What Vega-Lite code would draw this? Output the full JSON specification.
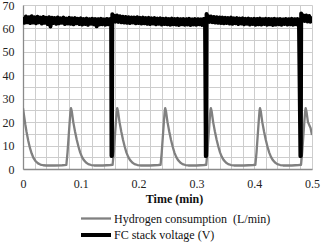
{
 "$schema": "https://vega.github.io/schema/vega-lite/v6.json",
 "width": 289, "height": 164,
 "autosize": {"type": "none"},
 "padding": {"left": 23, "top": 5, "right": 9, "bottom": 76},
 "background": "white",
 "config": {
  "view": {"stroke": null},
  "font": "Liberation Serif",
  "axis": {"labelFont": "Liberation Serif", "labelFontSize": 12, "labelColor": "#222", "gridColor": "#cdcdcd", "gridWidth": 1, "domainColor": "#8a8a8a", "domainWidth": 1.3, "ticks": false, "labelOverlap": false, "labelFlush": false, "titleFont": "Liberation Serif", "titleColor": "#111"},
  "legend": {"orient": "none", "legendX": 66, "legendY": 207, "title": null, "symbolType": "M-3,0H3", "symbolSize": 100, "labelOffset": 11, "labelFont": "Liberation Serif", "labelFontSize": 12, "labelColor": "#111", "labelLimit": 0, "rowPadding": 2}
 },
 "datasets": {
  "h2": [
   {"t":0,"val":26},{"t":0.002,"val":22.5},{"t":0.004,"val":19},{"t":0.006,"val":16},{"t":0.009,"val":12.2},{"t":0.012,"val":9},{"t":0.015,"val":6.6},{"t":0.018,"val":4.8},{"t":0.022,"val":3.3},{"t":0.026,"val":2.4},{"t":0.03,"val":1.9},{"t":0.035,"val":1.6},{"t":0.04,"val":1.5},{"t":0.055,"val":1.5},{"t":0.068,"val":1.6},
   {"t":0.075,"val":1.8},{"t":0.077,"val":7},{"t":0.079,"val":14},{"t":0.081,"val":21},{"t":0.0823,"val":25},{"t":0.083,"val":26},{"t":0.0845,"val":24.5},{"t":0.087,"val":20},{"t":0.09,"val":16},{"t":0.093,"val":12.5},{"t":0.096,"val":9.5},{"t":0.099,"val":7},{"t":0.102,"val":5.2},{"t":0.105,"val":3.9},{"t":0.109,"val":2.8},{"t":0.113,"val":2.1},{"t":0.118,"val":1.7},{"t":0.123,"val":1.5},{"t":0.138,"val":1.5},{"t":0.151,"val":1.7},
   {"t":0.155,"val":1.8},{"t":0.157,"val":7},{"t":0.159,"val":14},{"t":0.161,"val":21},{"t":0.1623,"val":25},{"t":0.163,"val":26},{"t":0.1645,"val":24.5},{"t":0.167,"val":20},{"t":0.17,"val":16},{"t":0.173,"val":12.5},{"t":0.176,"val":9.5},{"t":0.179,"val":7},{"t":0.182,"val":5.2},{"t":0.185,"val":3.9},{"t":0.189,"val":2.8},{"t":0.193,"val":2.1},{"t":0.198,"val":1.7},{"t":0.203,"val":1.5},{"t":0.22,"val":1.5},{"t":0.234,"val":1.7},
   {"t":0.238,"val":1.8},{"t":0.24,"val":7},{"t":0.242,"val":14},{"t":0.244,"val":21},{"t":0.2453,"val":25},{"t":0.246,"val":26},{"t":0.2475,"val":24.5},{"t":0.25,"val":20},{"t":0.253,"val":16},{"t":0.256,"val":12.5},{"t":0.259,"val":9.5},{"t":0.262,"val":7},{"t":0.265,"val":5.2},{"t":0.268,"val":3.9},{"t":0.272,"val":2.8},{"t":0.276,"val":2.1},{"t":0.281,"val":1.7},{"t":0.286,"val":1.5},{"t":0.3,"val":1.5},{"t":0.313,"val":1.7},
   {"t":0.317,"val":1.8},{"t":0.319,"val":7},{"t":0.321,"val":14},{"t":0.323,"val":21},{"t":0.3243,"val":25},{"t":0.325,"val":26},{"t":0.3265,"val":24.5},{"t":0.329,"val":20},{"t":0.332,"val":16},{"t":0.335,"val":12.5},{"t":0.338,"val":9.5},{"t":0.341,"val":7},{"t":0.344,"val":5.2},{"t":0.347,"val":3.9},{"t":0.351,"val":2.8},{"t":0.355,"val":2.1},{"t":0.36,"val":1.7},{"t":0.365,"val":1.5},{"t":0.382,"val":1.5},{"t":0.398,"val":1.7},
   {"t":0.402,"val":1.8},{"t":0.404,"val":7},{"t":0.406,"val":14},{"t":0.408,"val":21},{"t":0.4093,"val":25},{"t":0.41,"val":26},{"t":0.4115,"val":24.5},{"t":0.414,"val":20},{"t":0.417,"val":16},{"t":0.42,"val":12.5},{"t":0.423,"val":9.5},{"t":0.426,"val":7},{"t":0.429,"val":5.2},{"t":0.432,"val":3.9},{"t":0.436,"val":2.8},{"t":0.44,"val":2.1},{"t":0.445,"val":1.7},{"t":0.45,"val":1.5},{"t":0.465,"val":1.5},{"t":0.477,"val":1.7},
   {"t":0.481,"val":1.8},{"t":0.483,"val":7},{"t":0.485,"val":14},{"t":0.487,"val":21},{"t":0.4883,"val":25},{"t":0.489,"val":26},{"t":0.4905,"val":24.5},{"t":0.493,"val":20},{"t":0.4975,"val":17.5},{"t":0.5,"val":14.5}
  ],
  "volt": [
   {"t":0,"val":64.9},{"t":0.0025,"val":62.4},{"t":0.005,"val":65.1},{"t":0.0075,"val":62.6},{"t":0.01,"val":64.8},{"t":0.0125,"val":62.3},{"t":0.015,"val":65.2},{"t":0.0175,"val":62.5},{"t":0.02,"val":64.7},{"t":0.0225,"val":62.2},
   {"t":0.025,"val":65.0},{"t":0.0275,"val":62.6},{"t":0.03,"val":64.6},{"t":0.0325,"val":62.1},{"t":0.035,"val":64.9},{"t":0.0375,"val":62.4},{"t":0.04,"val":64.5},{"t":0.0425,"val":61.9},{"t":0.045,"val":64.8},{"t":0.0475,"val":60.8},
   {"t":0.05,"val":64.6},{"t":0.0525,"val":62.3},{"t":0.055,"val":64.4},{"t":0.0575,"val":62.0},{"t":0.06,"val":64.7},{"t":0.0625,"val":62.2},{"t":0.065,"val":64.3},{"t":0.0675,"val":62.4},{"t":0.07,"val":64.6},{"t":0.0725,"val":61.9},
   {"t":0.075,"val":64.2},{"t":0.0775,"val":62.1},{"t":0.08,"val":64.5},{"t":0.0825,"val":62.0},{"t":0.085,"val":64.3},{"t":0.0875,"val":61.8},{"t":0.09,"val":64.4},{"t":0.0925,"val":62.2},{"t":0.095,"val":64.1},{"t":0.0975,"val":61.9},
   {"t":0.1,"val":64.3},{"t":0.1025,"val":61.7},{"t":0.105,"val":64.0},{"t":0.1075,"val":61.9},{"t":0.11,"val":64.2},{"t":0.1125,"val":61.6},{"t":0.115,"val":63.9},{"t":0.1175,"val":62.0},{"t":0.12,"val":64.1},{"t":0.1225,"val":61.8},
   {"t":0.125,"val":64.0},{"t":0.1275,"val":60.9},{"t":0.13,"val":63.9},{"t":0.1325,"val":61.7},{"t":0.135,"val":64.1},{"t":0.1375,"val":61.8},{"t":0.14,"val":63.8},{"t":0.1425,"val":61.6},{"t":0.145,"val":64.0},{"t":0.1475,"val":61.8},
   {"t":0.15,"val":63.9},{"t":0.1525,"val":62.0},{"t":0.1532,"val":5.5},{"t":0.1538,"val":5.5},{"t":0.1545,"val":66.0},
   {"t":0.155,"val":63.2},{"t":0.1575,"val":65.4},{"t":0.16,"val":62.9},{"t":0.1625,"val":65.5},{"t":0.165,"val":62.8},{"t":0.1675,"val":65.2},{"t":0.17,"val":62.6},{"t":0.1725,"val":65.0},{"t":0.175,"val":62.5},{"t":0.1775,"val":64.9},
   {"t":0.18,"val":62.4},{"t":0.1825,"val":64.8},{"t":0.185,"val":62.3},{"t":0.1875,"val":64.7},{"t":0.19,"val":62.5},{"t":0.1925,"val":64.6},{"t":0.195,"val":62.2},{"t":0.1975,"val":64.8},{"t":0.2,"val":62.3},{"t":0.2025,"val":64.5},
   {"t":0.205,"val":62.1},{"t":0.2075,"val":64.6},{"t":0.21,"val":62.2},{"t":0.2125,"val":64.4},{"t":0.215,"val":62.0},{"t":0.2175,"val":64.5},{"t":0.22,"val":61.9},{"t":0.2225,"val":64.3},{"t":0.225,"val":62.1},{"t":0.2275,"val":64.4},
   {"t":0.23,"val":61.8},{"t":0.2325,"val":64.2},{"t":0.235,"val":62.0},{"t":0.2375,"val":64.3},{"t":0.24,"val":61.7},{"t":0.2425,"val":64.1},{"t":0.245,"val":61.9},{"t":0.2475,"val":64.2},{"t":0.25,"val":61.8},{"t":0.2525,"val":64.0},
   {"t":0.255,"val":61.6},{"t":0.2575,"val":64.2},{"t":0.26,"val":61.8},{"t":0.2625,"val":64.0},{"t":0.265,"val":61.7},{"t":0.2675,"val":64.1},{"t":0.27,"val":61.5},{"t":0.2725,"val":63.9},{"t":0.275,"val":61.8},{"t":0.2775,"val":64.0},
   {"t":0.28,"val":61.6},{"t":0.2825,"val":63.9},{"t":0.285,"val":61.7},{"t":0.2875,"val":64.1},{"t":0.29,"val":61.5},{"t":0.2925,"val":63.8},{"t":0.295,"val":61.7},{"t":0.2975,"val":64.0},{"t":0.3,"val":61.6},{"t":0.3025,"val":63.9},
   {"t":0.305,"val":61.8},{"t":0.3075,"val":63.8},{"t":0.31,"val":61.5},{"t":0.3125,"val":64.0},{"t":0.315,"val":61.9},{"t":0.3163,"val":5.5},{"t":0.3169,"val":5.5},{"t":0.3176,"val":66.2},
   {"t":0.318,"val":63.0},{"t":0.32,"val":65.3},{"t":0.3225,"val":62.8},{"t":0.325,"val":65.1},{"t":0.3275,"val":62.7},{"t":0.33,"val":64.9},{"t":0.3325,"val":62.5},{"t":0.335,"val":64.8},{"t":0.3375,"val":62.4},{"t":0.34,"val":64.7},
   {"t":0.3425,"val":62.3},{"t":0.345,"val":64.6},{"t":0.3475,"val":62.2},{"t":0.35,"val":64.5},{"t":0.3525,"val":62.3},{"t":0.355,"val":64.4},{"t":0.3575,"val":62.1},{"t":0.36,"val":64.6},{"t":0.3625,"val":62.0},{"t":0.365,"val":64.3},
   {"t":0.3675,"val":62.2},{"t":0.37,"val":64.4},{"t":0.3725,"val":61.9},{"t":0.375,"val":64.2},{"t":0.3775,"val":62.1},{"t":0.38,"val":64.3},{"t":0.3825,"val":61.8},{"t":0.385,"val":64.1},{"t":0.3875,"val":62.0},{"t":0.39,"val":64.2},
   {"t":0.3925,"val":61.7},{"t":0.395,"val":64.0},{"t":0.3975,"val":61.9},{"t":0.4,"val":64.1},{"t":0.4025,"val":61.6},{"t":0.405,"val":64.0},{"t":0.4075,"val":61.8},{"t":0.41,"val":64.2},{"t":0.4125,"val":61.7},{"t":0.415,"val":63.9},
   {"t":0.4175,"val":61.9},{"t":0.42,"val":64.1},{"t":0.4225,"val":61.6},{"t":0.425,"val":64.0},{"t":0.4275,"val":61.8},{"t":0.43,"val":63.9},{"t":0.4325,"val":61.5},{"t":0.435,"val":64.1},{"t":0.4375,"val":61.7},{"t":0.44,"val":63.9},
   {"t":0.4425,"val":61.8},{"t":0.445,"val":64.0},{"t":0.4475,"val":61.6},{"t":0.45,"val":63.8},{"t":0.4525,"val":61.9},{"t":0.455,"val":64.0},{"t":0.4575,"val":61.7},{"t":0.46,"val":63.9},{"t":0.4625,"val":61.8},{"t":0.465,"val":64.1},
   {"t":0.4675,"val":61.6},{"t":0.47,"val":63.9},{"t":0.4725,"val":61.8},{"t":0.475,"val":64.0},{"t":0.4775,"val":61.9},{"t":0.48,"val":5.5},{"t":0.4806,"val":5.5},{"t":0.4813,"val":66.4},
   {"t":0.4825,"val":63.4},{"t":0.485,"val":65.6},{"t":0.4875,"val":63.2},{"t":0.49,"val":65.5},{"t":0.4925,"val":63.0},{"t":0.495,"val":65.3},{"t":0.4975,"val":62.9},{"t":0.5,"val":65.2}
  ]
 },
 "encoding": {
  "x": {"field": "t", "type": "quantitative", "scale": {"domain": [0, 0.5], "nice": false},
   "axis": {"values": [0,0.02,0.04,0.06,0.08,0.1,0.12,0.14,0.16,0.18,0.2,0.22,0.24,0.26,0.28,0.3,0.32,0.34,0.36,0.38,0.4,0.42,0.44,0.46,0.48,0.5],
    "labelExpr": "abs(datum.value*10 - round(datum.value*10)) < 0.001 ? format(datum.value, '.1~f') : ''",
    "labelPadding": 9, "title": "Time (min)", "titleFontWeight": "bold", "titleFontSize": 12, "titlePadding": 4, "titleX": 151}},
  "y": {"field": "val", "type": "quantitative", "scale": {"domain": [0, 70], "nice": false},
   "axis": {"values": [0,5,10,15,20,25,30,35,40,45,50,55,60,65,70],
    "labelExpr": "datum.value % 10 === 0 ? datum.label : ''", "labelPadding": 9, "title": null}}
 },
 "layer": [
  {
   "data": {"name": "h2"},
   "mark": {"type": "line", "strokeJoin": "round", "clip": true},
   "encoding": {
    "color": {"datum": "Hydrogen consumption\u00a0 (L/min)", "type": "nominal",
     "scale": {"domain": ["Hydrogen consumption\u00a0 (L/min)", "FC stack voltage (V)"], "range": ["#808080", "#000000"]}},
    "strokeWidth": {"datum": "Hydrogen consumption\u00a0 (L/min)", "type": "nominal",
     "scale": {"domain": ["Hydrogen consumption\u00a0 (L/min)", "FC stack voltage (V)"], "range": [2.3, 4]}}
   }
  },
  {
   "data": {"name": "volt"},
   "mark": {"type": "line", "strokeJoin": "round", "clip": true},
   "encoding": {
    "color": {"datum": "FC stack voltage (V)", "type": "nominal"},
    "strokeWidth": {"datum": "FC stack voltage (V)", "type": "nominal"}
   }
  }
 ]
}
